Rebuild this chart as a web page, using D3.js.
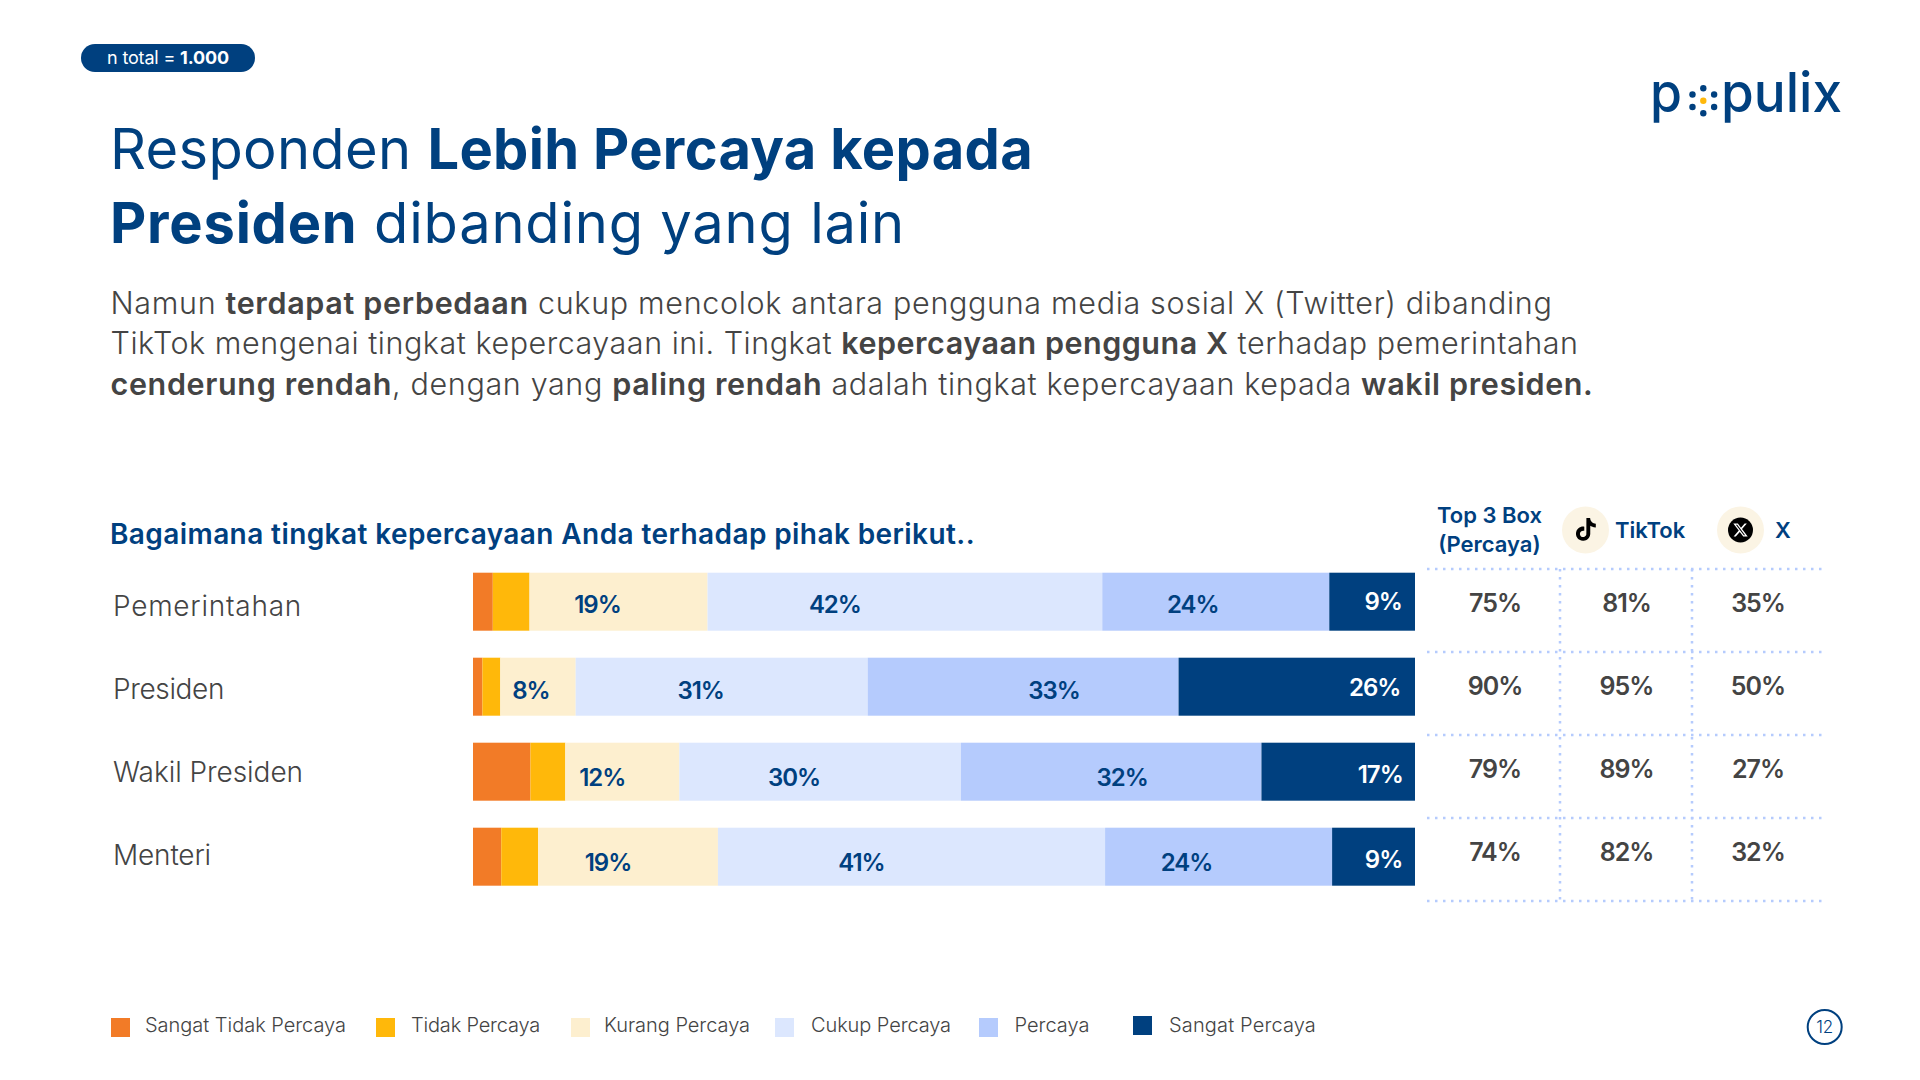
<!DOCTYPE html>
<html>
<head>
<meta charset="utf-8">
<title>Populix</title>
<script src="https://cdn.jsdelivr.net/npm/d3@7"></script>
<style>
  body { margin: 0; background: #fff; }
  svg { display: block; font-family: Inter, "Noto Sans", sans-serif; }
  text { white-space: pre; }
</style>
</head>
<body>
<svg width="1920" height="1080"></svg>
<script>
// data
const categories = ["Pemerintahan", "Presiden", "Wakil Presiden", "Menteri"]
const levels = ["Sangat Tidak Percaya", "Tidak Percaya", "Kurang Percaya", "Cukup Percaya", "Percaya", "Sangat Percaya"]
const pemerintahan = [2.1, 3.9, 18.9, 41.9, 24.1, 9.1]
const presiden = [1.0, 1.9, 8.0, 31.0, 33.0, 25.1]
const wakilPresiden = [6.1, 3.7, 12.1, 29.9, 31.9, 16.3]
const menteri = [3.0, 3.9, 19.1, 41.1, 24.1, 8.8]
// what is printed on the bars, the thin segments have nothing
const printedLabels = [
  [null, null, 19, 42, 24, 9],
  [null, null, 8, 31, 33, 26],
  [null, null, 12, 30, 32, 17],
  [null, null, 19, 41, 24, 9]
]
const tableColumns = ["top3", "tiktok", "x"]
const top3Box = [75, 90, 79, 74]
const tiktok = [81, 95, 89, 82]
const xTwitter = [35, 50, 27, 32]

// styling tables
const navy = "#00407f"
const grey = "#444444"
const levelColors = ["#f27b27", "#ffb80a", "#fdefcf", "#dce7fe", "#b5cbfd", navy]
// the labels sit off centre in the original, px from segment middle, per row
const labelShift = [
  [0, 0, -21, -70, -23, 11],
  [0, 0, -7, -21, 31, 78],
  [0, 0, -20, -26, 11, 42],
  [0, 0, -20, -50, -32, 10]
]
const labelDrop = [11, 12, 14, 14]
const categoryWidths = [189, 111, 190, 98]

const svg = d3.select("svg")

// stretch or squeeze a line of text with letter spacing until it has the width of the original
const fit = function (sel, width) {
  const node = sel.node()
  const n = node.textContent.length
  sel.style("letter-spacing", (width - node.getComputedTextLength()) / n + "px")
  return sel
}

// one line with normal and bold runs, runs = [[text, bold?], ...]
const richLine = function (x, y, runs, size, light, bold, color, width) {
  const t = svg.append("text")
    .attr("x", x)
    .attr("y", y)
    .attr("fill", color)
    .style("font-size", size + "px")
  t.selectAll("tspan")
    .data(runs)
    .enter()
    .append("tspan")
    .style("font-weight", d => d[1] ? bold : light)
    .text(d => d[0])
  return fit(t, width)
}

// pill
svg.append("rect")
  .attr("x", 81).attr("y", 44)
  .attr("width", 174).attr("height", 28)
  .attr("rx", 14)
  .attr("fill", navy)
richLine(107, 64, [["n total = ", false], ["1.000", true]], 18, 400, 700, "#fff", 122)

// heading
richLine(110, 169, [["Responden ", false], ["Lebih Percaya kepada", true]], 56, 400, 700, navy, 923)
richLine(110, 243, [["Presiden", true], [" dibanding yang lain", false]], 56, 400, 700, navy, 795)

// intro text
richLine(110.5, 313.5, [["Namun ", false], ["terdapat perbedaan", true], [" cukup mencolok antara pengguna media sosial X (Twitter) dibanding", false]], 30.5, 300, 600, grey, 1442)
richLine(110.5, 354, [["TikTok mengenai tingkat kepercayaan ini. Tingkat ", false], ["kepercayaan pengguna X", true], [" terhadap pemerintahan", false]], 30.5, 300, 600, grey, 1468)
richLine(110.5, 394.5, [["cenderung rendah", true], [", dengan yang ", false], ["paling rendah", true], [" adalah tingkat kepercayaan kepada ", false], ["wakil presiden.", true]], 30.5, 300, 600, grey, 1483)

// logo
svg.append("text").attr("x", 1650).attr("y", 112).attr("fill", navy)
  .style("font-size", "55px").style("font-weight", 500)
  .attr("textLength", 32).attr("lengthAdjust", "spacingAndGlyphs").text("p")
svg.append("text").attr("x", 1721).attr("y", 112).attr("fill", navy)
  .style("font-size", "55px").style("font-weight", 500)
  .attr("textLength", 121).attr("lengthAdjust", "spacingAndGlyphs").text("pulix")
svg.append("g").selectAll("circle")
  .data(d3.range(6))
  .enter()
  .append("circle")
  .attr("cx", d => 1703.3 + 12.5 * Math.sin(d * Math.PI / 3))
  .attr("cy", d => 100.7 - 12.5 * Math.cos(d * Math.PI / 3))
  .attr("r", 3.2)
  .attr("fill", navy)
svg.append("circle").attr("cx", 1703.3).attr("cy", 100.7).attr("r", 3.2).attr("fill", "#ffb80a")

// chart question
fit(svg.append("text")
  .attr("x", 110).attr("y", 544)
  .attr("fill", navy)
  .style("font-size", "28px").style("font-weight", 600)
  .text("Bagaimana tingkat kepercayaan Anda terhadap pihak berikut.."), 865)

// stacked bars
const rows = [pemerintahan, presiden, wakilPresiden, menteri].map((values, i) => {
  const row = { category: categories[i] }
  levels.forEach((l, j) => { row[l] = values[j] })
  return row
})

const series = d3.stack()
  .keys(levels)
  .offset(d3.stackOffsetExpand)(rows)

const xScale = d3.scaleLinear()
  .domain([0, 1])
  .range([473, 1415])

const yScale = d3.scaleBand()
  .domain(categories)
  .range([572.7, 885.7])
  .paddingInner(27 / 85)

const layers = svg.selectAll("g.layer")
  .data(series)
  .enter()
  .append("g")
  .attr("class", "layer")
  .attr("fill", (d, i) => levelColors[i])

layers.selectAll("rect")
  .data(d => d)
  .enter()
  .append("rect")
  .attr("x", d => xScale(d[0]))
  .attr("y", d => yScale(d.data.category))
  .attr("width", d => xScale(d[1]) - xScale(d[0]))
  .attr("height", yScale.bandwidth())

// value labels
layers.each(function (s, j) {
  d3.select(this).selectAll("text")
    .data(s.filter((d, i) => printedLabels[i][j] !== null))
    .enter()
    .append("text")
    .attr("x", d => (xScale(d[0]) + xScale(d[1])) / 2 + labelShift[categories.indexOf(d.data.category)][j])
    .attr("y", d => yScale(d.data.category) + yScale.bandwidth() / 2 + labelDrop[categories.indexOf(d.data.category)] - (j === 5 ? 3 : 0))
    .attr("text-anchor", "middle")
    .attr("fill", j === 5 ? "#fff" : navy)
    .style("font-size", "24px")
    .style("font-weight", 600)
    .style("letter-spacing", "-1px")
    .text(d => printedLabels[categories.indexOf(d.data.category)][j] + "%")
})

// table on the right, rows are the same categories
const rowScale = d3.scaleBand()
  .domain(categories)
  .range([569, 901])

const colScale = d3.scalePoint()
  .domain(tableColumns)
  .range([1495, 1758])

// category names
svg.selectAll("text.category")
  .data(categories)
  .enter()
  .append("text")
  .attr("class", "category")
  .attr("x", 113)
  .attr("y", d => rowScale(d) + 47)
  .attr("fill", grey)
  .style("font-size", "28px")
  .style("font-weight", 300)
  .text(d => d)
  .each(function (d, i) { fit(d3.select(this), categoryWidths[i]) })

// dotted grid
const dotted = { stroke: "#b5cbfd", "stroke-width": 2.5, "stroke-dasharray": "2.5 5.5" }
const gridLines = svg.append("g")
Object.entries(dotted).forEach(([k, v]) => gridLines.attr(k, v))

gridLines.selectAll("line.h")
  .data(categories.concat("end"))
  .enter()
  .append("line")
  .attr("class", "h")
  .attr("x1", 1427).attr("x2", 1824)
  .attr("y1", d => d === "end" ? rowScale.range()[1] : rowScale(d))
  .attr("y2", d => d === "end" ? rowScale.range()[1] : rowScale(d))

gridLines.selectAll("line.v")
  .data([1560, 1692])
  .enter()
  .append("line")
  .attr("class", "v")
  .attr("x1", d => d).attr("x2", d => d)
  .attr("y1", 569).attr("y2", 901)

// table values
const tableValues = { top3: top3Box, tiktok: tiktok, x: xTwitter }
tableColumns.forEach(col => {
  svg.append("g").selectAll("text")
    .data(tableValues[col])
    .enter()
    .append("text")
    .attr("x", colScale(col))
    .attr("y", (d, i) => rowScale(categories[i]) + 42.5)
    .attr("text-anchor", "middle")
    .attr("fill", grey)
    .style("font-size", "25px")
    .style("font-weight", 600)
    .style("letter-spacing", "-1px")
    .text(d => d + "%")
})

// table header
const headerText = function (x, y, anchor, label) {
  return svg.append("text")
    .attr("x", x).attr("y", y)
    .attr("text-anchor", anchor)
    .attr("fill", navy)
    .style("font-size", "22px")
    .style("font-weight", 600)
    .text(label)
}
headerText(1489.5, 523, "middle", "Top 3 Box")
headerText(1489.5, 552, "middle", "(Percaya)")
headerText(1615, 538, "start", "TikTok")
headerText(1775, 538, "start", "X")

svg.append("circle").attr("cx", 1585.5).attr("cy", 530).attr("r", 23.5).attr("fill", "#fbf4e4")
svg.append("path")
  .attr("transform", "translate(1574.5,518) scale(0.95)")
  .attr("fill", "#000")
  .attr("d", "M12.525.02c1.31-.02 2.61-.01 3.91-.02.08 1.53.63 3.09 1.75 4.17 1.12 1.11 2.7 1.62 4.24 1.79v4.03c-1.44-.05-2.89-.35-4.2-.97-.57-.26-1.1-.59-1.62-.93-.01 2.92.01 5.84-.02 8.75-.08 1.4-.54 2.79-1.35 3.94-1.31 1.92-3.58 3.17-5.91 3.21-1.43.08-2.86-.31-4.08-1.03-2.02-1.19-3.44-3.37-3.65-5.71-.02-.5-.03-1-.01-1.49.18-1.9 1.12-3.72 2.58-4.96 1.66-1.44 3.98-2.13 6.15-1.72.02 1.48-.04 2.96-.04 4.44-.99-.32-2.15-.23-3.02.37-.63.41-1.11 1.04-1.36 1.75-.21.51-.15 1.07-.14 1.61.24 1.64 1.82 3.02 3.5 2.87 1.12-.01 2.19-.66 2.77-1.61.19-.33.4-.67.41-1.06.1-1.79.06-3.57.07-5.36.01-4.03-.01-8.05.02-12.07z")

svg.append("circle").attr("cx", 1740.5).attr("cy", 530).attr("r", 23.5).attr("fill", "#fbf4e4")
svg.append("circle").attr("cx", 1740.5).attr("cy", 530).attr("r", 12.5).attr("fill", "#000")
svg.append("path")
  .attr("transform", "translate(1733.3,522.8) scale(0.6)")
  .attr("fill", "#fff")
  .attr("d", "M18.901 1.153h3.68l-8.04 9.19L24 22.846h-7.406l-5.8-7.584-6.638 7.584H.474l8.6-9.83L0 1.154h7.594l5.243 6.932ZM17.61 20.644h2.039L6.486 3.24H4.298Z")

// legend
const legendSwatchX = [111, 376, 571, 775, 979, 1133]
const legendTextX = [145, 411, 604, 811, 1014.5, 1169]
const legendTextW = [201, 129, 146, 140, 75, 147]
const legend = svg.selectAll("g.legend")
  .data(levels)
  .enter()
  .append("g")
  .attr("class", "legend")

legend.append("rect")
  .attr("x", (d, i) => legendSwatchX[i])
  .attr("y", (d, i) => i === 5 ? 1016 : 1018)
  .attr("width", 19)
  .attr("height", 19)
  .attr("fill", (d, i) => levelColors[i])

legend.append("text")
  .attr("x", (d, i) => legendTextX[i])
  .attr("y", 1031.5)
  .attr("fill", grey)
  .style("font-size", "20px")
  .style("font-weight", 300)
  .text(d => d)
  .each(function (d, i) { fit(d3.select(this), legendTextW[i]) })

// page number
svg.append("circle")
  .attr("cx", 1824.7).attr("cy", 1027).attr("r", 17)
  .attr("fill", "none")
  .attr("stroke", navy)
  .attr("stroke-width", 2)
svg.append("text")
  .attr("x", 1824.7).attr("y", 1033)
  .attr("text-anchor", "middle")
  .attr("fill", navy)
  .style("font-size", "17px")
  .style("font-weight", 300)
  .text("12")
</script>
</body>
</html>
